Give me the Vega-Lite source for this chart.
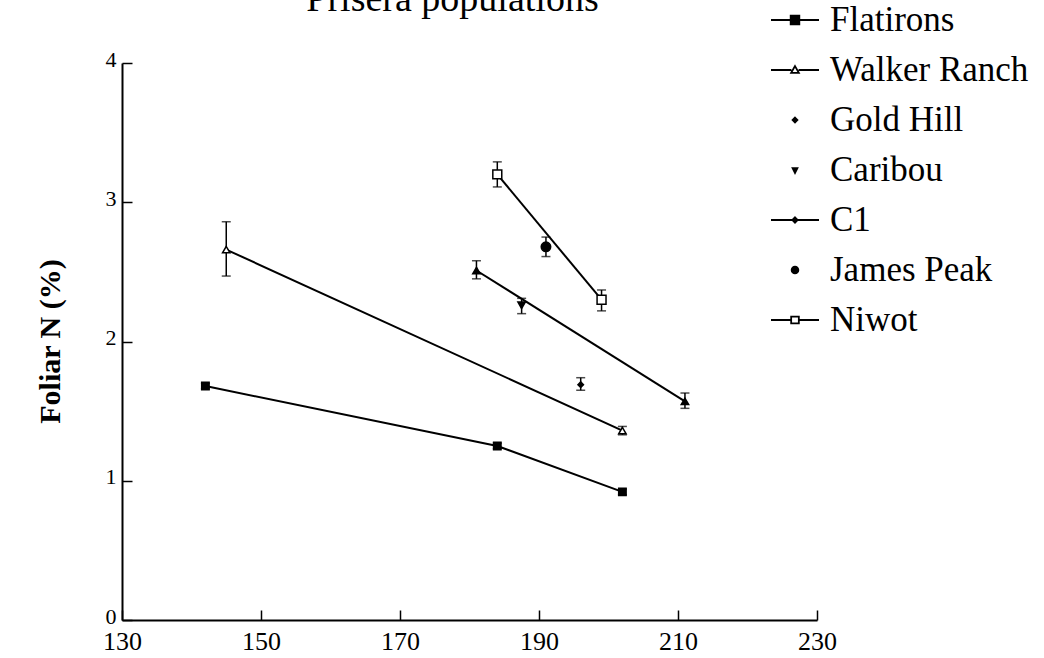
{
  "$schema": "https://vega.github.io/schema/vega-lite/v6.json",
  "width": 695,
  "height": 557,
  "autosize": {"type": "none"},
  "padding": {"left": 122, "top": 63, "right": 227, "bottom": 38},
  "background": "white",
  "config": {"view": {"stroke": null}, "font": "Liberation Serif"},
  "title": {"text": "Prisera populations", "font": "Liberation Serif", "fontSize": 38, "fontWeight": "normal", "color": "black", "frame": "group", "anchor": "middle", "dx": -17, "offset": -62, "baseline": "bottom"},
  "data": {"values": [
    {"site": "Flatirons", "day": 142, "n": 1.68, "lo": 1.66, "hi": 1.70},
    {"site": "Flatirons", "day": 184, "n": 1.25, "lo": 1.23, "hi": 1.27},
    {"site": "Flatirons", "day": 202, "n": 0.92, "lo": 0.90, "hi": 0.94},
    {"site": "Walker Ranch", "day": 145, "n": 2.66, "lo": 2.47, "hi": 2.86},
    {"site": "Walker Ranch", "day": 202, "n": 1.36, "lo": 1.33, "hi": 1.39},
    {"site": "Gold Hill", "day": 196, "n": 1.69, "lo": 1.65, "hi": 1.74},
    {"site": "Caribou", "day": 187.5, "n": 2.26, "lo": 2.20, "hi": 2.31},
    {"site": "C1", "day": 181, "n": 2.51, "lo": 2.45, "hi": 2.58},
    {"site": "C1", "day": 211, "n": 1.57, "lo": 1.52, "hi": 1.63},
    {"site": "James Peak", "day": 191, "n": 2.68, "lo": 2.61, "hi": 2.75},
    {"site": "Niwot", "day": 184, "n": 3.20, "lo": 3.11, "hi": 3.29},
    {"site": "Niwot", "day": 199, "n": 2.30, "lo": 2.22, "hi": 2.37}
  ]},
  "encoding": {
    "x": {"field": "day", "type": "quantitative",
      "scale": {"domain": [130, 230], "nice": false, "zero": false},
      "axis": {"title": null, "values": [130, 150, 170, 190, 210, 230], "grid": false,
        "domainColor": "black", "domainWidth": 2, "tickColor": "black", "tickWidth": 1.5, "tickSize": -10,
        "labelPadding": 18, "labelFont": "Liberation Serif", "labelFontSize": 26, "labelColor": "black", "labelFlush": false}}
  },
  "layer": [
    {
      "mark": {"type": "errorbar", "color": "black", "ticks": {"size": 9, "thickness": 1.5}, "rule": {"strokeWidth": 1.5}},
      "encoding": {
        "y": {"field": "lo", "type": "quantitative", "scale": {"domain": [0, 4], "nice": false}, "title": "Foliar N (%)"},
        "y2": {"field": "hi"}
      }
    },
    {
      "transform": [{"filter": {"field": "site", "oneOf": ["Flatirons", "Walker Ranch", "C1", "Niwot"]}}],
      "mark": {"type": "line", "color": "black", "strokeWidth": 2},
      "encoding": {
        "y": {"field": "n", "type": "quantitative"},
        "detail": {"field": "site"}
      }
    },
    {
      "mark": {"type": "point", "filled": true, "stroke": "black", "strokeWidth": 1.5, "opacity": 1},
      "encoding": {
        "y": {"field": "n", "type": "quantitative",
          "scale": {"domain": [0, 4], "nice": false},
          "axis": {"title": "Foliar N (%)", "values": [0, 1, 2, 3, 4], "format": "d", "grid": false,
            "domainColor": "black", "domainWidth": 2, "tickColor": "black", "tickWidth": 1.5, "tickSize": -10,
            "labelPadding": 16, "labelOffset": -4, "labelFont": "Liberation Serif", "labelFontSize": 22, "labelColor": "black", "labelFlush": false,
            "titleFont": "Liberation Serif", "titleFontSize": 30, "titleFontWeight": "bold", "titleColor": "black",
            "titleX": -72, "titleY": 278, "titleAngle": -90, "titleAlign": "center", "titleBaseline": "middle"}},
        "fill": {"condition": {"test": "datum.site==='Walker Ranch'||datum.site==='Niwot'", "value": "white"}, "value": "black"},
        "size": {"condition": [
          {"test": "datum.site==='James Peak'", "value": 90},
          {"test": "datum.site==='Gold Hill'", "value": 30},
          {"test": "datum.site==='Niwot'", "value": 80}
        ], "value": 55},
        "shape": {"condition": [
          {"test": "datum.site==='Flatirons'||datum.site==='Niwot'", "value": "square"},
          {"test": "datum.site==='Walker Ranch'||datum.site==='C1'", "value": "triangle-up"},
          {"test": "datum.site==='Gold Hill'", "value": "diamond"},
          {"test": "datum.site==='Caribou'", "value": "triangle-down"}
        ], "value": "circle"}
      }
    },
    {
      "transform": [{"filter": "false"}],
      "mark": {"type": "point", "filled": true, "strokeWidth": 1.8, "opacity": 1},
      "encoding": {
        "y": {"field": "n", "type": "quantitative"},
        "shape": {"field": "site", "type": "nominal",
          "scale": {"domain": ["Flatirons", "Walker Ranch", "Gold Hill", "Caribou", "C1", "James Peak", "Niwot"],
            "range": [
              "M-1,0H1M-0.18,-0.18H0.18V0.18H-0.18Z",
              "M-1,0H-0.15M0.15,0H1M0,-0.16L0.16,0.12H-0.16Z",
              "M0,-0.1L0.1,0L0,0.1L-0.1,0Z",
              "M-0.1,-0.08H0.1L0,0.12Z",
              "M-1,0H1M0,-0.11L0.11,0L0,0.11L-0.11,0Z",
              "M-0.14,0A0.14,0.14,0,1,0,0.14,0A0.14,0.14,0,1,0,-0.14,0Z",
              "M-1,0H-0.16M0.16,0H1M-0.16,-0.14H0.16V0.14H-0.16Z"
            ]},
          "legend": {"title": null, "orient": "none", "legendX": 648, "legendY": -68, "padding": 0,
            "labelFont": "Liberation Serif", "labelFontSize": 35, "labelColor": "black", "labelOffset": 10, "labelLimit": 400,
            "symbolSize": 2304, "rowPadding": 7, "symbolStrokeWidth": 1.8, "symbolOpacity": 1}},
        "fill": {"field": "site", "type": "nominal",
          "scale": {"domain": ["Flatirons", "Walker Ranch", "Gold Hill", "Caribou", "C1", "James Peak", "Niwot"],
            "range": ["black", "white", "black", "black", "black", "black", "white"]},
          "legend": {"title": null, "orient": "none", "legendX": 648, "legendY": -68, "padding": 0,
            "labelFont": "Liberation Serif", "labelFontSize": 35, "labelColor": "black", "labelOffset": 10, "labelLimit": 400,
            "symbolSize": 2304, "rowPadding": 7, "symbolStrokeWidth": 1.8, "symbolOpacity": 1}},
        "stroke": {"field": "site", "type": "nominal",
          "scale": {"domain": ["Flatirons", "Walker Ranch", "Gold Hill", "Caribou", "C1", "James Peak", "Niwot"],
            "range": ["black", "black", "black", "black", "black", "black", "black"]},
          "legend": {"title": null, "orient": "none", "legendX": 648, "legendY": -68, "padding": 0,
            "labelFont": "Liberation Serif", "labelFontSize": 35, "labelColor": "black", "labelOffset": 10, "labelLimit": 400,
            "symbolSize": 2304, "rowPadding": 7, "symbolStrokeWidth": 1.8, "symbolOpacity": 1}}
      }
    }
  ]
}
